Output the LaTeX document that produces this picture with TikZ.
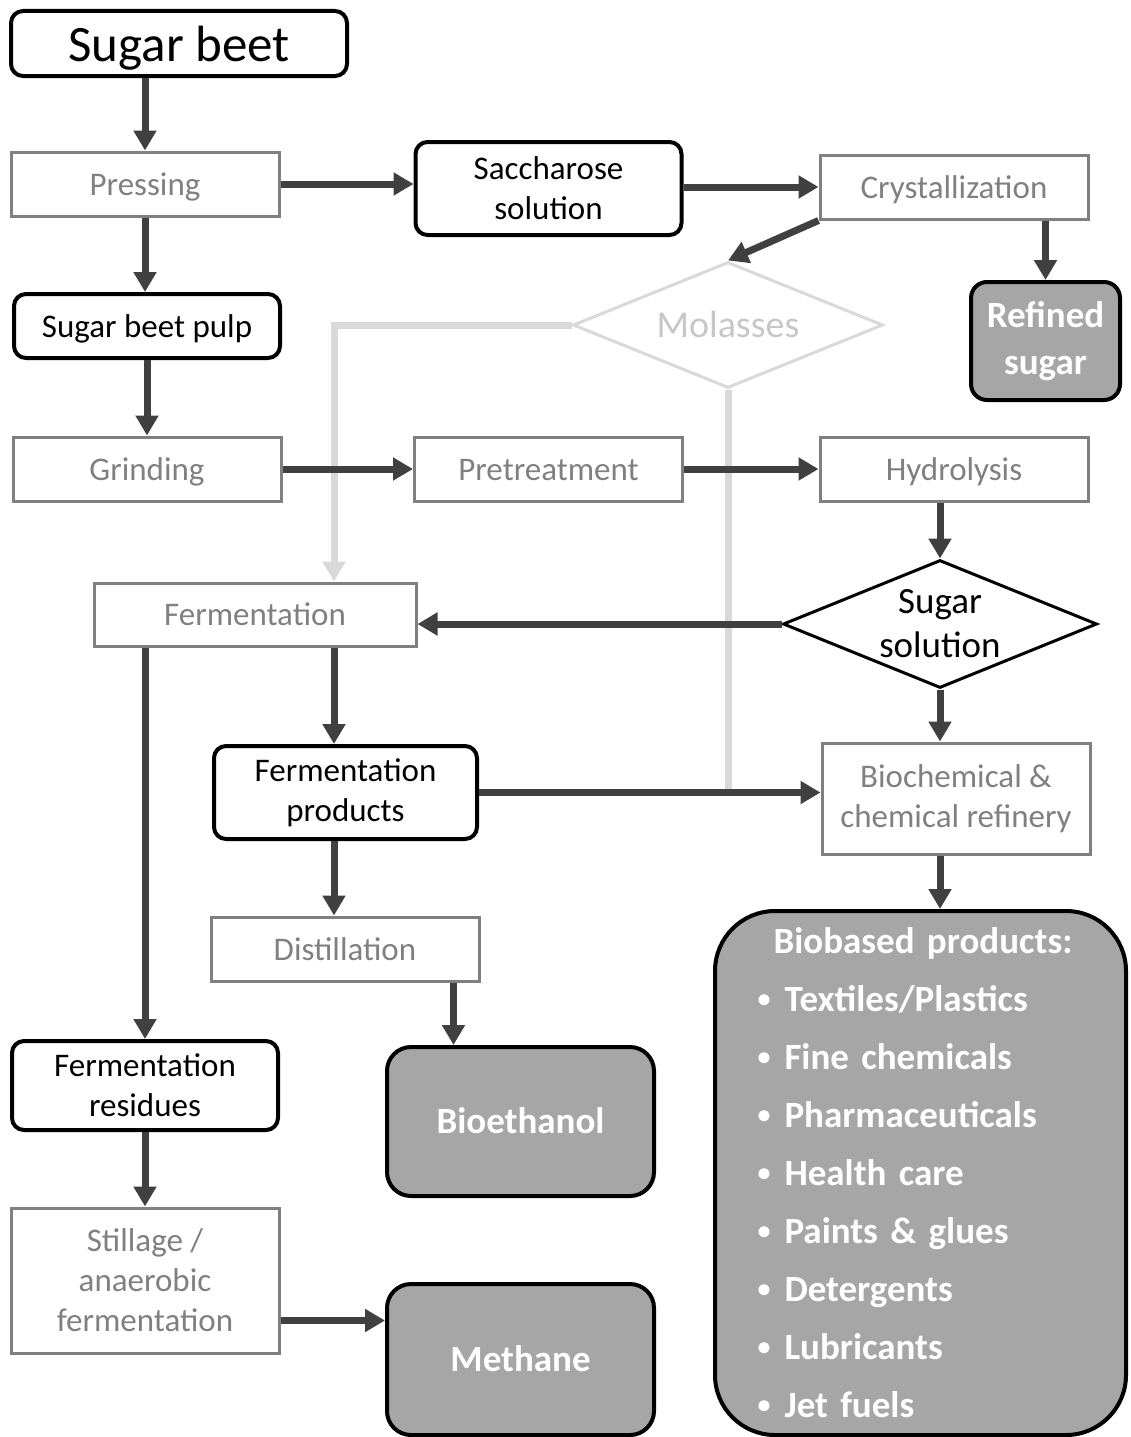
\documentclass[tikz,border=0pt]{standalone}
\usepackage{fontspec}
\setmainfont{Carlito}
\usetikzlibrary{arrows.meta,shapes.geometric}
\definecolor{flowgray}{HTML}{404040}
\definecolor{stepgray}{HTML}{808080}
\definecolor{palegray}{HTML}{D9D9D9}
\definecolor{prodgray}{HTML}{A6A6A6}
\newcommand{\dotitem}{\makebox[27pt][l]{\raisebox{4pt}{\fontsize{26}{26}\selectfont•}}}
\begin{document}
\begin{tikzpicture}[x=10pt,y=10pt,
	proc/.style={draw=stepgray,line width=3pt,text=stepgray,minimum width=268pt,minimum height=64pt},
	stuff/.style={draw=black,line width=4pt,rounded corners=12pt,minimum width=266pt,minimum height=64pt},
	prod/.style={draw=black,line width=4pt,rounded corners=24pt,fill=prodgray,text=white,font=\fontsize{37}{47}\selectfont\bfseries},
	oneline/.style={text height=#1,text depth=0pt},
	oneline/.default=22pt,
	flow/.style={draw=flowgray,line width=7pt,-{Triangle[length=20pt,width=22pt]}},
	side/.style={draw=palegray,line width=7pt}]
	\tikzstyle{every node}+=[inner sep=0pt,align=center,font=\fontsize{33}{40}\selectfont]
	\useasboundingbox (0,0) rectangle (113,-143.7);
	\node[stuff,oneline=37pt,minimum width=336pt,minimum height=65pt,font=\fontsize{51}{60}\selectfont] (beet) at (17.9,-4.35) {Sugar beet};
	\node[proc,oneline] (press) at (14.5,-18.4) {Pressing};
	\node[stuff,minimum height=93pt] (sacch) at (54.85,-18.85) {Saccharose\\solution};
	\node[proc,oneline] (cryst) at (95.4,-18.7) {Crystallization};
	\node[diamond,oneline=24pt,draw=palegray,line width=3pt,text=black!22,font=\fontsize{38}{44}\selectfont,minimum width=310pt,minimum height=126pt,aspect=2.46] (mol) at (72.8,-32.5) {Molasses};
	\node[prod,rounded corners=16pt,minimum width=149pt,minimum height=118pt] (refd) at (104.55,-34.1) {Refined\\sugar};
	\node[stuff,oneline] (pulp) at (14.7,-32.6) {Sugar beet pulp};
	\node[proc,oneline] (grind) at (14.7,-46.9) {Grinding};
	\node[proc,oneline] (pretr) at (54.85,-46.9) {Pretreatment};
	\node[proc,oneline] (hydro) at (95.4,-46.9) {Hydrolysis};
	\node[proc,oneline,minimum width=322pt,minimum height=63pt] (ferm) at (25.5,-61.45) {Fermentation};
	\node[diamond,draw=black,line width=3pt,font=\fontsize{37}{44}\selectfont,minimum width=314pt,minimum height=128pt,aspect=2.45] (sol) at (94.0,-62.4) {Sugar\\solution};
	\node[stuff,minimum width=263pt,minimum height=93pt] (fprod) at (34.55,-79.25) {Fermentation\\products};
	\node[proc,minimum height=111pt] (bio) at (95.6,-79.85) {Biochemical \&\\chemical refinery};
	\node[proc,oneline] (dist) at (34.5,-94.9) {Distillation};
	\node[stuff,minimum height=89pt] (res) at (14.5,-108.55) {Fermentation\\residues};
	\node[prod,oneline=24pt,minimum width=267pt,minimum height=149pt] (eth) at (52.05,-112.15) {Bioethanol};
	\node[proc,minimum height=145pt] (still) at (14.5,-128.05) {Stillage /\\anaerobic\\fermentation};
	\node[prod,oneline=24pt,minimum width=267pt,minimum height=151pt] (meth) at (52.05,-135.95) {Methane};
	\node[prod,rounded corners=60pt,minimum width=411pt,minimum height=524pt,text width=326pt,align=left,font=\fontsize{37}{58}\selectfont\bfseries] (based) at (92.05,-117.3) {\hspace*{16pt}Biobased products:\\
		\dotitem Textiles/Plastics\\
		\dotitem Fine chemicals\\
		\dotitem Pharmaceuticals\\
		\dotitem Health care\\
		\dotitem Paints \& glues\\
		\dotitem Detergents\\
		\dotitem Lubricants\\
		\dotitem Jet fuels};
	\coordinate (bend) at (33.4,-32.5);
	\coordinate (tap) at ([xshift=-27pt]dist.south east);
	\coordinate (gas) at ([yshift=-40pt]still.east);
	\draw[side,-{Triangle[length=20pt,width=22pt]}] (mol.west) -- (bend) -- (bend |- ferm.north);
	\draw[side] (mol.south) -- (mol.south |- fprod.east);
	\draw[flow] (beet.south -| press.north) -- (press.north);
	\draw[flow] (press.south) -- (press.south |- pulp.north);
	\draw[flow] (press.east) -- (press.east -| sacch.west);
	\draw[flow] (sacch.east |- cryst.west) -- (cryst.west);
	\draw[flow] (cryst.south west) -- (mol.north);
	\draw[flow] (cryst.south -| refd.north) -- (refd.north);
	\draw[flow] (pulp.south) -- (grind.north);
	\draw[flow] (grind.east) -- (pretr.west);
	\draw[flow] (pretr.east) -- (hydro.west);
	\draw[flow] (hydro.south -| sol.north) -- (sol.north);
	\draw[flow] (sol.west) -- (sol.west -| ferm.east);
	\draw[flow] (sol.south) -- (sol.south |- bio.north);
	\draw[flow] (ferm.south -| bend) -- (fprod.north -| bend);
	\draw[flow] (ferm.south -| res.north) -- (res.north);
	\draw[flow] (fprod.east) -- (fprod.east -| bio.west);
	\draw[flow] (fprod.south -| bend) -- (dist.north -| bend);
	\draw[flow] (tap) -- (tap |- eth.north);
	\draw[flow] (sol |- bio.south) -- (sol |- based.north);
	\draw[flow] (res.south) -- (still.north);
	\draw[flow] (gas) -- (gas -| meth.west);
\end{tikzpicture}
\end{document}
